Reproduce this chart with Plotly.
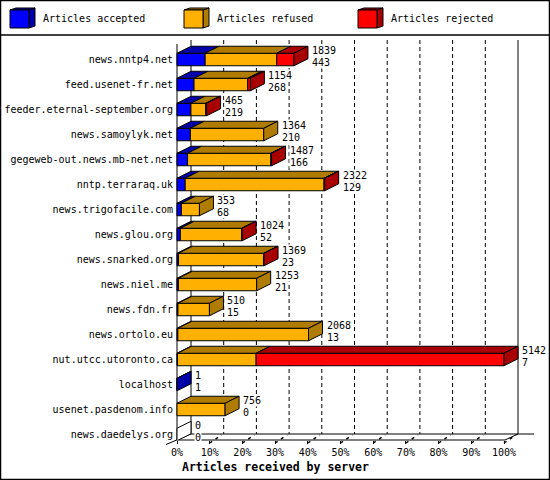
import plotly.graph_objects as go

servers = ['news.nntp4.net', 'feed.usenet-fr.net', 'feeder.eternal-september.org',
           'news.samoylyk.net', 'gegeweb-out.news.mb-net.net', 'nntp.terraraq.uk',
           'news.trigofacile.com', 'news.glou.org', 'news.snarked.org', 'news.niel.me',
           'news.fdn.fr', 'news.ortolo.eu', 'nut.utcc.utoronto.ca', 'localhost',
           'usenet.pasdenom.info', 'news.daedelys.org']
offered = [1839, 1154, 465, 1364, 1487, 2322, 353, 1024, 1369, 1253, 510, 2068, 5142, 1, 756, 0]
accepted = [443, 268, 219, 210, 166, 129, 68, 52, 23, 21, 15, 13, 7, 1, 0, 0]
refused = [1125, 845, 234, 1154, 1310, 2183, 285, 964, 1340, 1232, 495, 2055, 1237, 0, 756, 0]
rejected = [271, 41, 12, 0, 11, 10, 0, 8, 6, 0, 0, 0, 3898, 0, 0, 0]

series_names = ['Articles accepted', 'Articles refused', 'Articles rejected']
xticks = list(range(0, 101, 10))
xtick_labels = [f'{t}%' for t in xticks]

FONT = 'DejaVu Sans Mono'
colors = ['#0000ff', '#ffb000', '#ff0000']
dark = ['#0000a8', '#b07c00', '#a80000']

# pixel geometry of the drawing
W, H = 550, 480
PL, PR, PT, PB = 174, 548, 36, 440
X0_PX, PX_PER_PCT = 177, 3.27
ROW0_PX, ROW_PX = 59.5, 25
DEPTH_X, DEPTH_Y = 14, 7


def px_x(px):
    return (px - X0_PX) / PX_PER_PCT


def px_y(py):
    return (py - ROW0_PX) / ROW_PX


def paper_x(px):
    return (px - PL) / (PR - PL)


def paper_y(py):
    return (PB - py) / (PB - PT)


dx = DEPTH_X / PX_PER_PCT
dy = DEPTH_Y / ROW_PX
half = 0.25

scale = 100.0 / max(offered)
rows = list(range(len(servers)))
segs = [[v * scale for v in s] for s in (accepted, refused, rejected)]

fig = go.Figure()

# front faces
base = [0.0] * len(rows)
for k, seg in enumerate(segs):
    fig.add_trace(go.Bar(
        y=rows, x=[v if v > 0 else None for v in seg], base=base[:],
        orientation='h', width=2 * half, name=series_names[k],
        marker=dict(color=colors[k], line=dict(color='black', width=1)),
        showlegend=False, hoverinfo='skip'))
    base = [b + v for b, v in zip(base, seg)]

# top faces, one polygon set per colour
for k, seg in enumerate(segs):
    xs, ys = [], []
    start = [sum(s[i] for s in segs[:k]) for i in rows]
    for i in rows:
        if seg[i] <= 0:
            continue
        a, b = start[i], start[i] + seg[i]
        yt = i - half
        xs += [a, b, b + dx, a + dx, a, None]
        ys += [yt, yt, yt - dy, yt - dy, yt, None]
    fig.add_trace(go.Scatter(x=xs, y=ys, mode='lines', fill='toself', fillcolor=dark[k],
                             line=dict(color='black', width=1), showlegend=False,
                             hoverinfo='skip'))

# side faces at bar ends
side = {}
for i in rows:
    last = None
    for k in range(3):
        if segs[k][i] > 0:
            last = k
    col = dark[last] if last is not None else 'white'
    e = base[i]
    xs, ys = side.setdefault(col, ([], []))
    xs += [e, e, e + dx, e + dx, e, None]
    ys += [i - half, i + half, i + half - dy, i - half - dy, i - half, None]
for col, (xs, ys) in side.items():
    fig.add_trace(go.Scatter(x=xs, y=ys, mode='lines', fill='toself', fillcolor=col,
                             line=dict(color='black', width=1), showlegend=False,
                             hoverinfo='skip'))

annotations = []
for i in rows:
    for txt, off in ((str(offered[i]), -9), (str(accepted[i]), 3)):
        annotations.append(dict(
            x=base[i] + px_x(X0_PX + 17), y=i + off / ROW_PX, xref='x', yref='y',
            text=txt, showarrow=False, xanchor='left', yanchor='middle',
            bgcolor='white', borderpad=0,
            font=dict(family=FONT, size=10, color='black')))

annotations.append(dict(
    x=paper_x(180), y=paper_y(467), xref='paper', yref='paper',
    text='<b>Articles received by server</b>', showarrow=False,
    xanchor='left', yanchor='middle', font=dict(family=FONT, size=11.5, color='black')))

shapes = []


def pline(x0, y0, x1, y1, dash='solid', width=1):
    shapes.append(dict(type='line', xref='paper', yref='paper',
                       x0=paper_x(x0), y0=paper_y(y0), x1=paper_x(x1), y1=paper_y(y1),
                       line=dict(color='black', width=width, dash=dash), layer='below'))


# frame and legend separator
shapes.append(dict(type='rect', xref='paper', yref='paper',
                   x0=paper_x(0.5), y0=paper_y(0.5), x1=paper_x(W - 0.5), y1=paper_y(H - 0.5),
                   line=dict(color='black', width=1.5), layer='below'))
pline(0, 35, W, 35, width=1.5)

# walls and floor
x100 = X0_PX + 100 * PX_PER_PCT
pline(X0_PX, 44, X0_PX, PB)
pline(X0_PX + DEPTH_X, 40, X0_PX + DEPTH_X, PB - 6)
pline(x100 + DEPTH_X, 40, x100 + DEPTH_X, PB - 6)
pline(X0_PX, PB, x100 + 1, PB)
pline(X0_PX + DEPTH_X, PB - 6, x100 + DEPTH_X + 16, PB - 6)
pline(x100 + 1, PB, x100 + DEPTH_X, PB - 6)
pline(X0_PX - 11, PB + 4.5, X0_PX + DEPTH_X, PB - 6)

# dashed gridlines on the back wall and floor ticks
for t in xticks[1:-1]:
    shapes.append(dict(type='line', xref='x', yref='paper', x0=t + dx, x1=t + dx,
                       y0=paper_y(40), y1=paper_y(PB - 6),
                       line=dict(color='black', width=1, dash='4px,3px'), layer='below'))
for t in xticks[1:]:
    xf = X0_PX + t * PX_PER_PCT
    pline(xf, PB + 3, xf + DEPTH_X - 2, PB - 5, dash='3px,4px', width=1.5)

# legend cubes
for k in range(3):
    x0 = 10 + 174 * k
    top, bot, w, d, e = 10, 28, 19, 6, 2

    def path(pts):
        return 'M ' + ' L '.join(f'{paper_x(a):.5f},{paper_y(b):.5f}' for a, b in pts) + ' Z'

    shapes.append(dict(type='path', xref='paper', yref='paper', fillcolor=dark[k],
                       path=path([(x0 + w, top), (x0 + w + d, top - e), (x0 + w + d, bot - e), (x0 + w, bot)]),
                       line=dict(color='black', width=1)))
    shapes.append(dict(type='path', xref='paper', yref='paper', fillcolor=dark[k],
                       path=path([(x0, top), (x0 + d, top - e), (x0 + w + d, top - e), (x0 + w, top)]),
                       line=dict(color='black', width=1)))
    shapes.append(dict(type='rect', xref='paper', yref='paper', fillcolor=colors[k],
                       x0=paper_x(x0), y0=paper_y(bot), x1=paper_x(x0 + w), y1=paper_y(top),
                       line=dict(color='black', width=1)))
    annotations.append(dict(x=paper_x(x0 + 31), y=paper_y(19), xref='paper', yref='paper',
                            text=series_names[k], showarrow=False, xanchor='left',
                            yanchor='middle', font=dict(family=FONT, size=10, color='black')))

fig.update_layout(
    width=W, height=H,
    margin=dict(l=PL, r=W - PR, t=PT, b=H - PB, pad=0),
    paper_bgcolor='white', plot_bgcolor='white',
    barmode='overlay', showlegend=False,
    font=dict(family=FONT, size=10, color='black'),
    xaxis=dict(range=[px_x(PL), px_x(PR)], tickvals=xticks, ticktext=xtick_labels,
               ticks='outside', ticklen=3, tickcolor='black', showgrid=False,
               zeroline=False, showline=False, fixedrange=True),
    yaxis=dict(range=[px_y(PB), px_y(PT)], tickvals=rows, ticktext=servers,
               ticks='', showgrid=False, zeroline=False, showline=False, fixedrange=True),
    shapes=shapes, annotations=annotations,
)

# the page body has a default 8px margin; drop it so the figure fills the window
fig.write_html('out.html', config={'displayModeBar': False},
               post_script="document.body.style.margin='0px';")
